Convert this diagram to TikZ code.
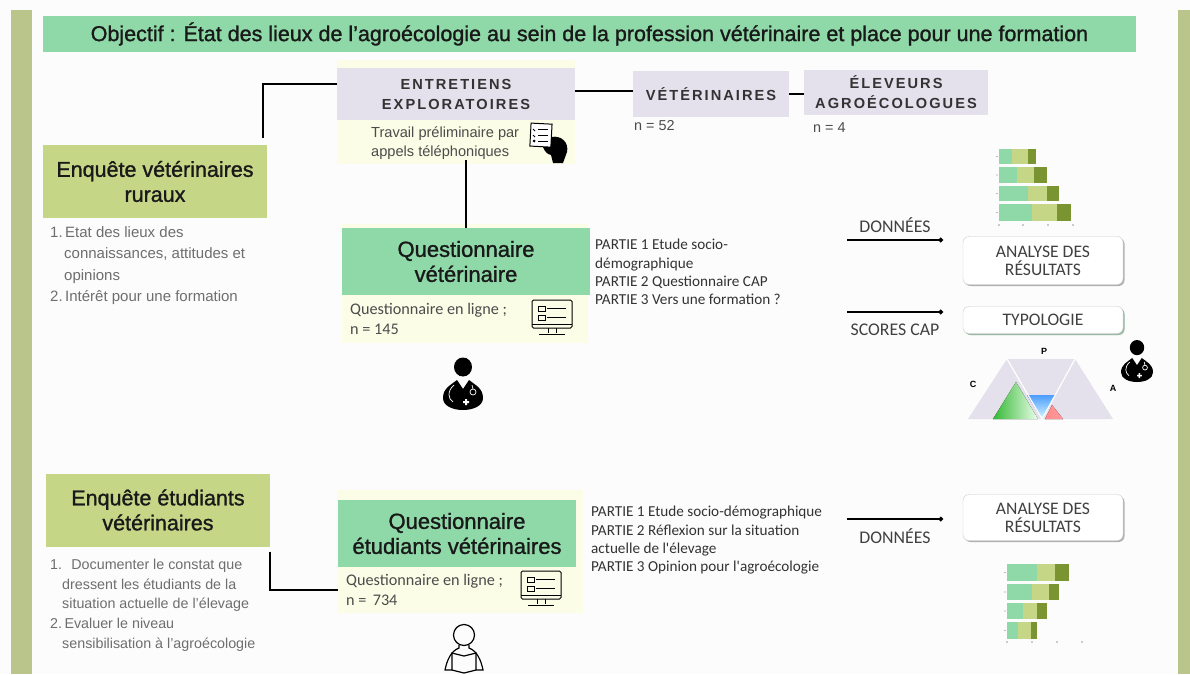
\documentclass[tikz,border=0pt]{standalone}
\usepackage{fontspec}
\setmainfont{Liberation Sans}
\newfontfamily\headfont[FakeBold=1.2]{Liberation Sans}
\newfontfamily\capsfont[LetterSpace=14]{Liberation Sans Bold}
\newfontfamily\bodyfont{Carlito}
\usetikzlibrary{shadows,arrows.meta}
\definecolor{mint}{HTML}{8FD9A8}
\definecolor{olive}{HTML}{C5D686}
\definecolor{barolive}{HTML}{B9C58A}
\definecolor{lilac}{HTML}{E4E0EC}
\definecolor{cream}{HTML}{FBFDE6}
\definecolor{darkbar}{HTML}{7A9432}
\definecolor{greytext}{HTML}{6E6E6E}
\tikzset{
    titlebox/.style = {fill=mint, minimum width=1093, minimum height=36, inner sep=0, font=\headfont\fontsize{21.5}{24}\selectfont, text=black!90},
    surveybox/.style = {fill=olive, minimum width=224, minimum height=73, inner sep=0, align=center, font=\headfont\fontsize{21.5}{25}\selectfont, text=black!90},
    qbox/.style = {fill=mint, inner sep=0, align=center, font=\headfont\fontsize{22}{25}\selectfont, text=black!90},
    capsbox/.style = {fill=lilac, inner sep=0, align=center, font=\capsfont\fontsize{14.6}{20}\selectfont, text=black!80},
    halo/.style = {fill=cream, draw=none},
    plain/.style = {inner sep=0, align=left, anchor=west, font=\fontsize{14.4}{19}\selectfont, text=black!70},
    goal/.style = {inner sep=0, anchor=north west, align=left, text=greytext},
    parts/.style = {inner sep=0, anchor=north west, align=left, font=\bodyfont\fontsize{15.2}{18.4}\selectfont, text=black!80},
    flowlabel/.style = {inner sep=0, font=\bodyfont\fontsize{17.8}{20}\selectfont, text=black!75},
    result/.style = {draw=black!20, fill=white, rounded corners=6, minimum width=160, align=center, inner sep=0, font=\bodyfont\fontsize{17.6}{18}\selectfont, text=black!75, drop shadow={shadow xshift=1.5pt, shadow yshift=-1.5pt, fill=black!60}},
    resultgreen/.style = {result, drop shadow={shadow xshift=1.5pt, shadow yshift=-1.5pt, fill=mint!90!black}},
    link/.style = {draw=black, line width=2.2},
    flow/.style = {draw=black, line width=1.3, -{Circle[length=4.5,width=4.5]}},
    tinylabel/.style = {inner sep=0, font=\bfseries\fontsize{9}{10}\selectfont},
    doctor/.pic = {
        \fill[black] (0,-18) ellipse [x radius=9, y radius=9.5];
        \fill[black] (-20,13) .. controls (-20,3) and (-12,0) .. (-6,-5) -- (0,4) -- (6,-5)
            .. controls (12,0) and (20,3) .. (20,13) .. controls (20,21) and (10,25) .. (0,25)
            .. controls (-10,25) and (-20,21) .. (-20,13) -- cycle;
        \draw[white, line width=0.7] (-9,0) .. controls (-16,6) and (-15,14) .. (-10,17);
        \draw[white, line width=0.7] (9,0) -- (10,4) (10,7) circle (3);
        \fill[white] (0,16) rectangle (6,18) (2,14) rectangle (4,20);
    },
    monitor/.pic = {
        \draw[black, line width=1, rounded corners=1.5] (-20,-17) rectangle (20,11);
        \draw[black, line width=1] (-20,7) -- (20,7) (-4,11) -- (-4,16) (4,11) -- (4,16) (-13,17) -- (13,17);
        \draw[black, line width=0.8] (-14,-11) rectangle (-7,-6) (-14,-2) rectangle (-7,3);
        \draw[black, line width=1] (-5,-9) -- (14,-9) (-5,0) -- (14,0);
    },
    student/.pic = {
        \draw[black, line width=1.2] (0,-15) circle (10.5);
        \draw[black, line width=1.2] (-5,-5) -- (-5,-2) .. controls (-13,1) and (-17,10) .. (-19,20) -- (-12,20) -- (0,23) -- (12,20) -- (19,20) .. controls (17,10) and (13,1) .. (5,-2) -- (5,-5);
        \draw[black, line width=1.2] (-12,20) -- (-12,3) -- (0,6) -- (12,3) -- (12,20);
    },
    reader/.pic = {
        \draw[black, line width=1, fill=white, rotate=-3] (-18,-20) rectangle (3,3);
        \draw[black, line width=1] (-10,-15) -- (0,-15) (-10,-9) -- (0,-9) (-10,-3) -- (0,-3);
        \draw[black, line width=0.8] (-15,-15) -- (-13,-13) (-15,-9) -- (-13,-7);
        \fill[black] (-14,-3) circle (1.5);
        \fill[black] (3,-7) .. controls (14,-9) and (21,-1) .. (19,8) -- (15,19) -- (5,19) -- (3,11)
            .. controls (-1,10) and (-3,8) .. (-5,3) -- (3,3) -- cycle;
    }
}
\begin{document}
\begin{tikzpicture}[x=1pt,y=-1pt]
    \useasboundingbox (0,0) rectangle (1190,674);
    \fill[white!99!black] (0,0) rectangle (1190,674);
    \fill[barolive] (11,10) rectangle (32,674);
    \fill[barolive] (1178,10) rectangle (1190,674);
    % title
    \node[titlebox] (objectif) at (589.5,34) {Objectif : État des lieux de l’agroécologie au sein de la profession vétérinaire et place pour une formation};
    % halos
    \fill[halo] (337,60) rectangle (575,164);
    \fill[halo] (342,224) rectangle (588,343);
    \fill[halo] (337,490) rectangle (583,613);
    % surveys
    \node[surveybox] (enqvet) at (155,181.5) {Enquête vétérinaires\\ruraux};
    \node[surveybox] (enqetu) at (158,510) {Enquête étudiants\\vétérinaires};
    \node[goal, font=\fontsize{15}{21.3}\selectfont] (goalvet) at (50,226.5) {1.\,Etat des lieux des\\\hspace{14pt}connaissances, attitudes et\\\hspace{14pt}opinions\\2.\,Intérêt pour une formation};
    \node[goal, font=\fontsize{14.3}{19.7}\selectfont] (goaletu) at (50,559) {1.\; Documenter le constat que\\\hspace{12pt}dressent les étudiants de la\\\hspace{12pt}situation actuelle de l'élevage\\2.\,Evaluer le niveau\\\hspace{12pt}sensibilisation à l'agroécologie};
    % exploratory
    \node[capsbox, minimum width=238, minimum height=52] (entretiens) at (456,94) {ENTRETIENS\\EXPLORATOIRES};
    \node[capsbox, minimum width=156, minimum height=46] (veto) at (711,94) {VÉTÉRINAIRES};
    \node[capsbox, minimum width=184, minimum height=45] (eleveurs) at (896,92.5) {ÉLEVEURS\\AGROÉCOLOGUES};
    \node[plain] (nveto) at (634,126) {n = 52};
    \node[plain] (neleveurs) at (813,128) {n = 4};
    \node[plain, font=\fontsize{14.6}{19}\selectfont] (travail) at (371,143) {Travail préliminaire par\\appels téléphoniques};
    \pic at (548,144) {reader};
    % questionnaires
    \node[qbox, minimum width=248, minimum height=67] (qvet) at (466,261.5) {Questionnaire\\vétérinaire};
    \node[qbox, minimum width=238, minimum height=67] (qetu) at (457,533.5) {Questionnaire\\étudiants vétérinaires};
    \node[plain, font=\bodyfont\fontsize{16.2}{20}\selectfont] (lignevet) at (350,319) {Questionnaire en ligne ;\\n = 145};
    \node[plain, font=\bodyfont\fontsize{16.2}{20}\selectfont] (ligneetu) at (346,590) {Questionnaire en ligne ;\\n =\, 734};
    \pic at (552,317) {monitor};
    \pic at (541,588) {monitor};
    \pic at (463,385) {doctor};
    \pic at (464,650) {student};
    \node[parts] (partvet) at (595,239) {PARTIE 1 Etude socio-\\démographique\\PARTIE 2 Questionnaire CAP\\PARTIE 3 Vers une formation ?};
    \node[parts] (partetu) at (591,506) {PARTIE 1 Etude socio-démographique\\PARTIE 2 Réflexion sur la situation\\actuelle de l'élevage\\PARTIE 3 Opinion pour l'agroécologie};
    % connectors
    \draw[link] ([yshift=10]entretiens.west) -| ([xshift=-4,yshift=7]enqvet.north east);
    \draw[link] ([yshift=3]entretiens.east) -- ([yshift=3]veto.west);
    \draw[link] (veto.east) -- (veto.east -| eleveurs.west);
    \draw[link, line width=1.6] (qvet.north) -- (qvet.north |- travail.south);
    \draw[link] ([yshift=-5]enqetu.south east) |- (ligneetu.west -| qetu.west);
    % results
    \node[result, minimum height=48] (analysevet) at (1043,260.5) {ANALYSE DES\\RÉSULTATS};
    \node[resultgreen, minimum height=27] (typologie) at (1043,320) {TYPOLOGIE};
    \node[result, minimum height=46] (analyseetu) at (1043,517.5) {ANALYSE DES\\RÉSULTATS};
    \coordinate (startvet) at (847,240);
    \coordinate (startcap) at (847,312);
    \coordinate (startetu) at (847,519);
    \draw[flow] (startvet) -- (startvet -| 943,0);
    \draw[flow] (startcap) -- (startcap -| 943,0);
    \draw[flow] (startetu) -- (startetu -| 943,0);
    \node[flowlabel] (donneesvet) at (895,225) {DONNÉES};
    \node[flowlabel] (scores) at (895,330) {SCORES CAP};
    \node[flowlabel] (donneesetu) at (895,536) {DONNÉES};
    % stacked bars
    \foreach \ya/\yb/\a/\b/\c in {149/164/1012/1028/1036, 167/183/1017/1034/1047, 186/201/1028/1047/1059, 204/221/1032/1057/1071} {
        \fill[mint] (999,\ya) rectangle (\a,\yb);
        \fill[olive] (\a,\ya) rectangle (\b,\yb);
        \fill[darkbar] (\b,\ya) rectangle (\c,\yb);
        \fill[black!50] (997,{(\ya+\yb)/2}) circle (0.6);
    }
    \foreach \tx in {999,1023,1048,1073} \fill[black!40] (\tx,225) circle (0.8);
    \foreach \ya/\yb/\a/\b/\c in {564/581/1037/1055/1069, 584/600/1032/1049/1059, 603/619/1023/1037/1047, 622/639/1018/1031/1037} {
        \fill[mint] (1007,\ya) rectangle (\a,\yb);
        \fill[olive] (\a,\ya) rectangle (\b,\yb);
        \fill[darkbar] (\b,\ya) rectangle (\c,\yb);
        \fill[black!50] (1005,{(\ya+\yb)/2}) circle (0.6);
    }
    \foreach \tx in {1007,1032,1057,1082} \fill[black!40] (\tx,642) circle (0.8);
    % typology
    \fill[lilac] (968,419) -- (1007,359) -- (1075,359) -- (1113,419) -- cycle;
    \fill[left color=green!65!black!80, right color=green!8] (993,419) -- (1016,382) -- (1038,419) -- cycle;
    \fill[top color=blue!55!cyan!70, bottom color=blue!20!cyan!15] (1027,395) -- (1055,395) -- (1042,419) -- cycle;
    \fill[left color=red!45, right color=red!40!white] (1045,419) -- (1052,405) -- (1063,419) -- cycle;
    \draw[white, line width=1.2] (1007,359) -- (1042,419) -- (1075,359);
    \node[tinylabel] (labp) at (1044,351) {P};
    \node[tinylabel] (labc) at (973,384) {C};
    \node[tinylabel] (laba) at (1113,388) {A};
    \pic[scale=0.8] at (1137,362) {doctor};
\end{tikzpicture}
\end{document}
